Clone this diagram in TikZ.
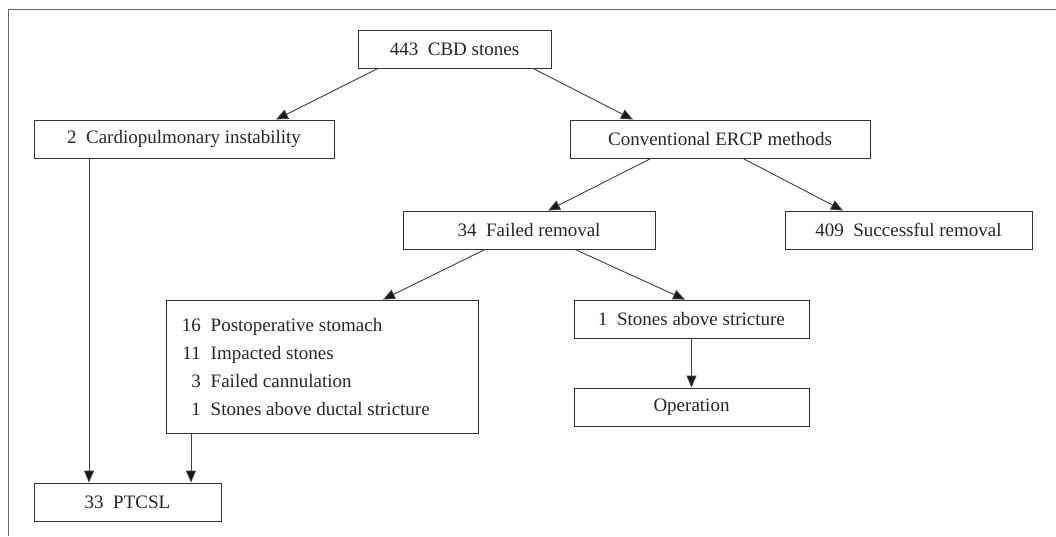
\documentclass[tikz,border=0pt]{standalone}
\usepackage{fontspec}
\setmainfont{Liberation Serif}
\usetikzlibrary{arrows.meta}
\begin{document}
\begin{tikzpicture}[x=1pt,y=-1pt,
  box/.style={draw=black!80,line width=0.9pt,minimum height=38pt,inner sep=0pt,
    font=\fontsize{19}{22}\selectfont,text=black!85},
  conn/.style={draw=black!75,line width=0.9pt,-{Triangle[length=12pt,width=10pt,fill=black!90]}}]
\useasboundingbox (0,0) rectangle (1056,536);
\draw[black!60,line width=1pt] (8,536) -- (8,9) -- (1056,9);
\node[box,minimum width=193pt] (cbd) at (454.5,49) {443\ \ CBD stones};
\node[box,minimum width=300pt] (cardio) at (184,139) {2\ \ Cardiopulmonary instability};
\node[box,minimum width=300pt] (conv) at (720,139) {Conventional ERCP methods};
\node[box,minimum width=252pt] (failed) at (529,230) {34\ \ Failed removal};
\node[box,minimum width=247pt] (succ) at (908.5,230) {409\ \ Successful removal};
\node[box,minimum width=312pt,minimum height=133pt] (big) at (322,366.5) {};
\node[anchor=west,inner sep=0pt,font=\fontsize{19}{28}\selectfont,text=black!85] (biglist) at ([xshift=16pt,yshift=-1pt]big.west)
  {\begin{tabular}{@{}r@{\hspace{10pt}}l@{}}
   16 & Postoperative stomach\\
   11 & Impacted stones\\
   3 & Failed cannulation\\
   1 & Stones above ductal stricture
   \end{tabular}};
\node[box,minimum width=235pt] (stones) at (691.5,319) {1\ \ Stones above stricture};
\node[box,minimum width=235pt] (oper) at (691.5,407) {Operation};
\node[box,minimum width=187pt] (ptcsl) at (127.5,502) {33\ \ PTCSL};
\draw[conn] ([xshift=-76.5pt]cbd.south) -- ([xshift=92pt]cardio.north);
\draw[conn] ([xshift=78.5pt]cbd.south) -- ([xshift=-87pt]conv.north);
\draw[conn] ([xshift=-69pt]conv.south) -- ([xshift=19pt]failed.north);
\draw[conn] ([xshift=23pt]conv.south) -- ([xshift=-65.5pt]succ.north);
\draw[conn] ([xshift=-44pt]failed.south) -- ([xshift=61pt]big.north);
\draw[conn] ([xshift=46pt]failed.south) -- ([xshift=-6.5pt]stones.north);
\draw[conn] (stones.south) -- (oper.north);
\draw[conn] ([xshift=-95pt]cardio.south) -- ([xshift=-38.5pt]ptcsl.north);
\draw[conn] ([xshift=-131pt]big.south) -- ([xshift=63.5pt]ptcsl.north);
\end{tikzpicture}
\end{document}
